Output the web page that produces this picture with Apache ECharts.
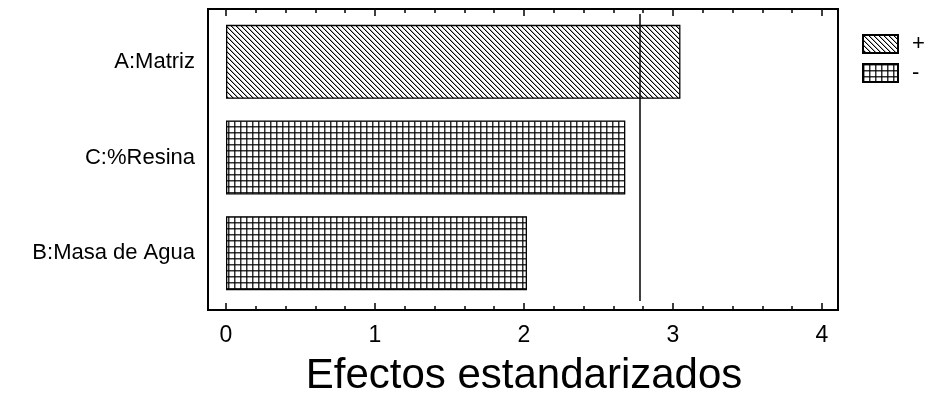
<!DOCTYPE html>
<html>
<head>
<meta charset="utf-8">
<script src="https://cdn.jsdelivr.net/npm/echarts@6/dist/echarts.min.js"></script>
<style>
  html, body { margin: 0; padding: 0; background: #fff; }
  #chart { width: 928px; height: 396px; }
</style>
</head>
<body>
<div id="chart"></div>
<script>
// Pareto of standardized effects
const factors = ['A:Matriz', 'C:%Resina', 'B:Masa de Agua'];
const positiveEffects = [3.05, null, null];
const negativeEffects = [null, 2.68, 2.02];
const seriesNames = ['+', '-'];
const criticalValue = 2.78;
const axisTitle = 'Efectos estandarizados';

// Diagonal hatching for positive effects
function hatchPattern() {
  const c = document.createElement('canvas');
  c.width = 5; c.height = 5;
  const g = c.getContext('2d');
  g.fillStyle = '#fff';
  g.fillRect(0, 0, 5, 5);
  for (let i = 0; i < 5; i++) {
    g.fillStyle = '#000';
    g.fillRect(i, i, 1, 1);
    g.fillStyle = '#a8a8a8';
    g.fillRect((i + 1) % 5, i, 1, 1);
  }
  return c;
}

// Square grid fill for negative effects
function gridPattern() {
  const c = document.createElement('canvas');
  c.width = 6; c.height = 6;
  const g = c.getContext('2d');
  g.fillStyle = '#fff';
  g.fillRect(0, 0, 6, 6);
  g.fillStyle = 'rgba(0,0,0,0.8)';
  g.fillRect(0, 0, 6, 1);
  g.fillRect(0, 0, 1, 6);
  g.fillStyle = 'rgba(0,0,0,0.4)';
  g.fillRect(0, 1, 6, 1);
  g.fillRect(1, 0, 1, 6);
  return c;
}

const fontFamily = '"Liberation Sans", Arial, sans-serif';
const chart = echarts.init(document.getElementById('chart'), null, { renderer: 'canvas' });

const tickCommon = {
  show: true, inside: true, length: 7,
  lineStyle: { color: '#000', width: 1.5 }
};
const minorCommon = {
  show: true, splitNumber: 5, length: 4,
  lineStyle: { color: '#000', width: 1.5 }
};

chart.setOption({
  animation: false,
  backgroundColor: '#fff',
  textStyle: { fontFamily: fontFamily },
  grid: [
    // outer frame
    { left: 208, right: 90, top: 9, height: 301, show: true, outerBoundsMode: 'none',
      borderColor: '#000', borderWidth: 2, backgroundColor: 'transparent' },
    // data area
    { left: 226, right: 106, top: 14, height: 287, containLabel: false, outerBoundsMode: 'none' }
  ],
  legend: {
    orient: 'vertical',
    left: 862, top: 33,
    padding: 0,
    icon: 'rect',
    itemWidth: 35, itemHeight: 18, itemGap: 7,
    textStyle: { fontSize: 22, color: '#000', fontFamily: fontFamily, padding: [0, 0, 0, 9] },
    data: seriesNames
  },
  xAxis: [
    {
      type: 'value', gridIndex: 1, position: 'bottom', offset: 9,
      min: 0, max: 4, interval: 1,
      axisLine: { show: false },
      axisTick: tickCommon,
      minorTick: minorCommon,
      splitLine: { show: false },
      axisLabel: { fontSize: 23, color: '#000', margin: 14, fontFamily: fontFamily },
      name: axisTitle,
      nameLocation: 'middle',
      nameGap: 45,
      nameTextStyle: { fontSize: 42, color: '#000', fontFamily: fontFamily }
    },
    {
      type: 'value', gridIndex: 1, position: 'top', offset: 5,
      min: 0, max: 4, interval: 1,
      axisLine: { show: false },
      axisTick: tickCommon,
      minorTick: minorCommon,
      splitLine: { show: false },
      axisLabel: { show: false }
    }
  ],
  yAxis: [
    {
      type: 'category', gridIndex: 1, data: factors, inverse: true,
      axisLine: { show: false },
      axisTick: { show: false },
      splitLine: { show: false },
      axisLabel: { fontSize: 22, color: '#000', margin: 31, fontFamily: fontFamily }
    }
  ],
  series: [
    {
      name: seriesNames[0], type: 'bar', xAxisIndex: 0, yAxisIndex: 0,
      data: positiveEffects.map(v => v === null ? '-' : v),
      barWidth: 74, barGap: '-100%',
      itemStyle: { color: { image: hatchPattern(), repeat: 'repeat' }, borderColor: '#000', borderWidth: 1.3 },
      markLine: {
        silent: true, symbol: 'none', animation: false,
        label: { show: false },
        lineStyle: { color: '#000', type: 'solid', width: 1.5 },
        data: [{ xAxis: criticalValue }]
      }
    },
    {
      name: seriesNames[1], type: 'bar', xAxisIndex: 0, yAxisIndex: 0,
      data: negativeEffects.map(v => v === null ? '-' : v),
      barWidth: 74, barGap: '-100%',
      itemStyle: { color: { image: gridPattern(), repeat: 'repeat' }, borderColor: '#000', borderWidth: 1.3 }
    }
  ]
});
</script>
</body>
</html>
